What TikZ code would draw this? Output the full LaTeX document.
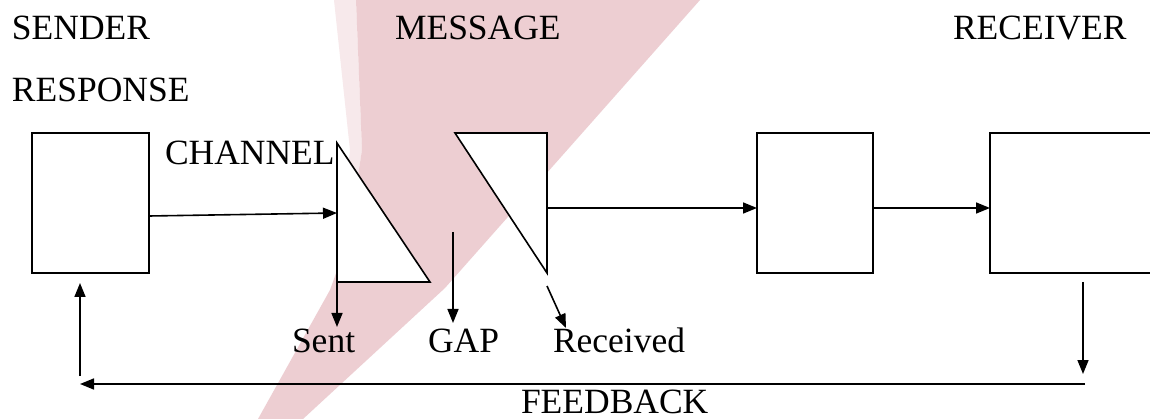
\documentclass[tikz,border=0pt]{standalone}
\usepackage{fontspec}
\setmainfont{Liberation Serif}
\usetikzlibrary{arrows.meta}
\definecolor{wm}{RGB}{237,206,210}
\begin{document}
\begin{tikzpicture}[x=1pt,y=-1pt,
  lbl/.style={anchor=base west,inner sep=0pt,outer sep=0pt,font=\fontsize{35.5}{40}\selectfont},
  blk/.style={draw,line width=1.6pt,fill=white,minimum width=#1,minimum height=140pt,inner sep=0pt,outer sep=0pt},
  arr/.style={line width=1.6pt,-{Triangle[length=14pt,width=11pt]}},
  ln/.style={line width=1.6pt,fill=white}]
\useasboundingbox[fill=white] (0,0) rectangle (1150,419);
% watermark
\fill[wm!45] (334,0) -- (356,0) -- (362,150) -- (348,240) -- (340,240) -- (350,150) -- cycle;
\fill[wm] (356,0) -- (700,0) -- (445,288) -- (303,419) -- (258,419) -- (330,290) -- (348,240) -- (362,150) -- cycle;
% labels
\node[lbl] (sender) at (12,40) {SENDER};
\node[lbl] (response) at (12,102) {RESPONSE};
\node[lbl] (message) at (395,40) {MESSAGE};
\node[lbl] (receiver) at (953,40) {RECEIVER};
\node[lbl] (channel) at (165,165) {CHANNEL};
\node[lbl] (sent) at (292,352) {Sent};
\node[lbl] (gap) at (428,352) {GAP};
\node[lbl] (received) at (553,352) {Received};
\node[lbl] (feedback) at (521,413) {FEEDBACK};
% boxes
\node[blk=117pt] (box1) at (90.5,203) {};
\node[blk=116pt] (box3) at (815,203) {};
\node[blk=165pt] (box4) at (1072.5,203) {};
% triangles
\coordinate (t1a) at (337,143);
\coordinate (t1b) at (337,282);
\coordinate (t1c) at (430,282);
\draw[ln] (t1a) -- (t1b) -- (t1c) -- cycle;
\coordinate (t2a) at (455,133);
\coordinate (t2b) at (547,133);
\coordinate (t2c) at (547,273);
\draw[ln] (t2a) -- (t2b) -- (t2c) -- cycle;
% connectors
\coordinate (t1in) at (337,213);
\draw[arr] ([yshift=-13pt]box1.east) -- (t1in);
\coordinate (t2out) at (547,208);
\draw[arr] (t2out) -- (t2out -| box3.west);
\draw[arr] ([yshift=-5pt]box3.east) -- ([yshift=-5pt]box4.west);
\coordinate (sentTip) at (337,327);
\draw[arr] (t1b) -- (sentTip);
\coordinate (gapStart) at (453,232);
\coordinate (gapTip) at (453,323);
\draw[arr] (gapStart) -- (gapTip);
\coordinate (recStart) at (547,286);
\coordinate (recTip) at (566,328);
\draw[arr] (recStart) -- (recTip);
\coordinate (fbStart) at (1083,282);
\coordinate (fbTip) at (1083,374);
\draw[arr] (fbStart) -- (fbTip);
\coordinate (fbRight) at (1085,384);
\coordinate (fbLeft) at (80,384);
\draw[arr] (fbRight) -- (fbLeft);
\coordinate (upStart) at (80,376);
\coordinate (upTip) at (80,283);
\draw[arr] (upStart) -- (upTip);
\end{tikzpicture}
\end{document}
